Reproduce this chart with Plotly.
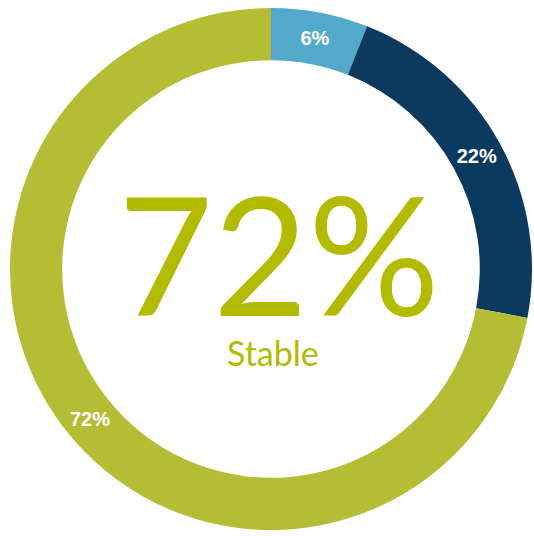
import plotly.graph_objects as go

# Share of segments, clockwise from 12 o'clock
categories = ["Emerging", "Declining", "Stable"]
shares = [6, 22, 72]
slice_labels = ["6%", "22%", "72%"]
colors = ["#52A9CB", "#0B3A5E", "#B5BD35"]

headline_value = "72%"
headline_label = "Stable"

fig = go.Figure(
    go.Pie(
        labels=categories,
        values=shares,
        text=slice_labels,
        textinfo="text",
        textposition="inside",
        insidetextorientation="horizontal",
        textfont=dict(family="Liberation Sans, Arial", size=20, color="white", weight="bold"),
        marker=dict(colors=colors, line=dict(width=0)),
        hole=0.80,
        sort=False,
        direction="clockwise",
        rotation=0,
        showlegend=False,
        hoverinfo="label+percent",
        domain=dict(x=[10 / 534, 532 / 534], y=[6 / 536, 528 / 536]),
    )
)

fig.add_annotation(
    x=279 / 534, y=1 - 252 / 536, xref="paper", yref="paper",
    text=headline_value, showarrow=False,
    font=dict(family="Lato", size=164, color="#B3BB00", weight=400),
)
fig.add_annotation(
    x=273 / 534, y=1 - 352 / 536, xref="paper", yref="paper",
    text=headline_label, showarrow=False,
    font=dict(family="Lato", size=34, color="#B3BB00", weight=400),
)

fig.update_layout(
    width=534, height=536,
    margin=dict(l=0, r=0, t=0, b=0),
    paper_bgcolor="white", plot_bgcolor="white",
)

fig.write_html("out.html")
